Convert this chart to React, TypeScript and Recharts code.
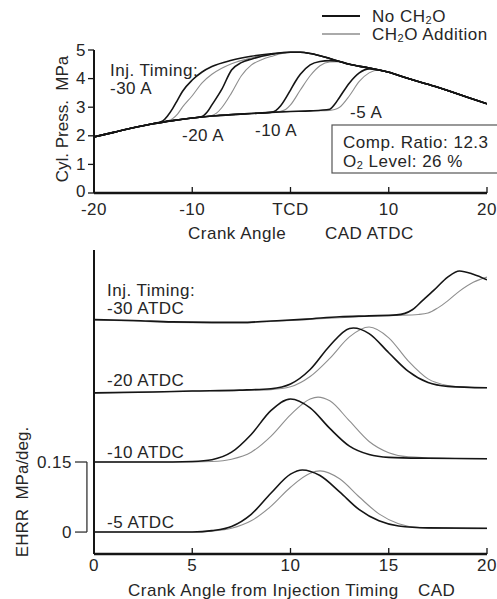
import React from 'react';
import { LineChart, Line, XAxis, YAxis, ReferenceLine } from 'recharts';

type Pair = [number, number];

// ---------- Top panel: cylinder pressure (MPa) vs crank angle (CAD ATDC) ----------
const pressXTicks = [-20, -10, 0, 10, 20];
const pressYTicks = [0, 1, 2, 3, 4, 5];
const pressTimingLabels = ['-30 A', '-20 A', '-10 A', '-5 A'];
const motoredPress: Pair[] = [[-20, 1.96], [-18, 2.12], [-16, 2.28], [-14, 2.42], [-12, 2.53], [-10, 2.62], [-8, 2.69], [-6, 2.74], [-4, 2.78], [-2, 2.82], [0, 2.85], [2, 2.87], [4, 2.89]];
const expansionPress: Pair[] = [[0, 4.92], [1, 4.92], [2, 4.88], [3, 4.8], [4, 4.7], [5, 4.6], [6, 4.5], [8, 4.37], [10, 4.22], [12, 4.0], [14, 3.8], [16, 3.58], [18, 3.35], [20, 3.12]];
const burn30No: Pair[] = [[-13, 2.52], [-12.5, 2.7], [-12, 2.95], [-11.5, 3.25], [-11, 3.55], [-10, 3.95], [-9, 4.23], [-8, 4.42], [-6, 4.64], [-4, 4.78], [-2, 4.87]];
const burn30Add: Pair[] = [[-12.5, 2.52], [-12, 2.6], [-11.5, 2.76], [-11, 3.0], [-10, 3.4], [-9, 3.85], [-8, 4.15], [-7, 4.36], [-6, 4.52], [-4, 4.72], [-2, 4.85]];
const burn20No: Pair[] = [[-9, 2.67], [-8.5, 2.82], [-8, 3.08], [-7, 3.62], [-6, 4.3], [-5, 4.56], [-4, 4.68], [-2, 4.84]];
const burn20Add: Pair[] = [[-8, 2.71], [-7.5, 2.8], [-7, 2.98], [-6, 3.5], [-5, 4.1], [-4, 4.47], [-3, 4.65], [-2, 4.77]];
const burn10No: Pair[] = [[-1.5, 2.88], [-1, 3.05], [0, 3.6], [0.5, 3.9], [1, 4.15], [2, 4.48], [3, 4.6], [4, 4.63], [5, 4.6]];
const burn10Add: Pair[] = [[-1, 2.86], [-0.5, 2.92], [0, 3.08], [1, 3.6], [2, 4.1], [3, 4.45], [4, 4.58], [5, 4.59]];
const burn5No: Pair[] = [[4, 2.93], [4.5, 3.1], [5, 3.35], [6, 3.85], [7, 4.2], [8, 4.34], [9, 4.3]];
const burn5Add: Pair[] = [[4.5, 2.92], [5, 3.0], [6, 3.4], [7, 3.9], [8, 4.2], [9, 4.3]];

// ---------- Bottom panel: EHRR (MPa/deg) vs crank angle from injection timing ----------
const ehrrXTicks = [0, 5, 10, 15, 20];
const ehrrYTicks = [0, 0.15];
const ehrrTimings = ['-30', '-20', '-10', '-5'];
const ehrrOffsets = [0.45, 0.3, 0.15, 0];
const ehrr30No: Pair[] = [[0, 0.005], [2, 0.003], [4, 0.0], [6, -0.001], [7.5, -0.001], [9, 0.002], [10.8, 0.006], [12.5, 0.011], [14, 0.013], [15.4, 0.015], [16.2, 0.026], [16.7, 0.045], [17.3, 0.068], [18, 0.096], [18.6, 0.109], [19.3, 0.102], [20, 0.09]];
const ehrr30Add: Pair[] = [[0, 0.004], [2, 0.002], [4, -0.001], [6, -0.002], [7.5, -0.002], [9, 0.001], [10.8, 0.005], [12.5, 0.009], [14, 0.012], [15.4, 0.014], [16.5, 0.016], [17, 0.019], [17.5, 0.03], [18, 0.045], [18.6, 0.066], [19.3, 0.085], [20, 0.096]];
const ehrr20No: Pair[] = [[0, -0.002], [3, 0.0], [5, 0.002], [7.4, 0.004], [9, 0.007], [10, 0.017], [11, 0.048], [12, 0.099], [13, 0.136], [13.2, 0.137], [14, 0.125], [15, 0.084], [16, 0.044], [17, 0.02], [18, 0.012], [20, 0.009]];
const ehrr20Add: Pair[] = [[0, -0.002], [3, 0.0], [5, 0.002], [7.4, 0.003], [9, 0.005], [10, 0.011], [11, 0.033], [12, 0.072], [13, 0.118], [14, 0.139], [15, 0.116], [16, 0.066], [17, 0.028], [18, 0.014], [19, 0.01], [20, 0.009]];
const ehrr10No: Pair[] = [[0, 0], [4, 0], [5, 0.001], [6, 0.005], [7, 0.021], [8, 0.059], [9, 0.11], [10, 0.135], [11, 0.116], [12, 0.072], [13, 0.034], [14, 0.016], [15, 0.01], [17, 0.008], [20, 0.007]];
const ehrr10Add: Pair[] = [[0, 0], [5, 0], [6, 0.001], [7, 0.006], [8, 0.021], [9, 0.055], [10, 0.101], [11, 0.135], [11.4, 0.139], [12, 0.131], [13, 0.088], [14, 0.044], [15, 0.02], [16, 0.011], [18, 0.008], [20, 0.007]];
const ehrr5No: Pair[] = [[0, 0], [5, 0], [6, 0.003], [7, 0.012], [8, 0.038], [9, 0.083], [10, 0.124], [10.6, 0.133], [11.5, 0.121], [12.5, 0.086], [13.5, 0.048], [14.5, 0.024], [15.5, 0.013], [17, 0.009], [20, 0.008]];
const ehrr5Add: Pair[] = [[0, 0], [5, 0], [6, 0.002], [7, 0.008], [8, 0.024], [9, 0.055], [10, 0.096], [11, 0.126], [11.5, 0.131], [12.5, 0.114], [13.5, 0.075], [14.5, 0.039], [15.5, 0.018], [16.5, 0.01], [18, 0.008], [20, 0.007]];

// ---------- styles ----------
const BLACK = '#151515';
const GRAY = '#8e8e8e';
const TEXT = '#262626';
const FONT = '"Liberation Sans", Arial, Helvetica, sans-serif';
const LBL: React.CSSProperties = { fontSize: 17, fill: TEXT, letterSpacing: 0.5 };
const VLBL: React.CSSProperties = { fontSize: 17, fill: TEXT, whiteSpace: 'pre' };

const toPts = (pairs: Pair[], offset = 0) => pairs.map(([x, y]) => ({ x, y: +(y + offset).toFixed(4) }));
const compose = (burn: Pair[]): Pair[] => {
  const s = burn[0][0];
  const e = burn[burn.length - 1][0];
  return [...motoredPress.filter((p) => p[0] < s), ...burn, ...expansionPress.filter((p) => p[0] > e)];
};

const pressGray = [burn30Add, burn20Add, burn10Add, burn5Add].map((b) => toPts(compose(b)));
const pressBlack = [burn30No, burn20No, burn10No, burn5No].map((b) => toPts(compose(b)));
const ehrrGray = [ehrr30Add, ehrr20Add, ehrr10Add, ehrr5Add].map((s, i) => toPts(s, ehrrOffsets[i]));
const ehrrBlack = [ehrr30No, ehrr20No, ehrr10No, ehrr5No].map((s, i) => toPts(s, ehrrOffsets[i]));

const TopXTick = (props: any) => {
  const { x, y, payload } = props;
  return (
    <g>
      <line x1={x} x2={x} y1={y} y2={y - 6} stroke={BLACK} strokeWidth={1.3} />
      <text x={x} y={y + 16} textAnchor="middle" dominantBaseline="central" style={LBL}>
        {payload.value === 0 ? 'TCD' : String(payload.value)}
      </text>
    </g>
  );
};
const BotXTick = (props: any) => {
  const { x, y, payload } = props;
  return (
    <g>
      <line x1={x} x2={x} y1={y} y2={y - 6} stroke={BLACK} strokeWidth={1.3} />
      <text x={x} y={y + 11} textAnchor="middle" dominantBaseline="central" style={LBL}>
        {String(payload.value)}
      </text>
    </g>
  );
};
const TopYTick = (props: any) => {
  const { x, y, payload } = props;
  return (
    <g>
      <line x1={x - 6} x2={x} y1={y} y2={y} stroke={BLACK} strokeWidth={1.3} />
      <text x={x - 8} y={payload.value === 0 ? y - 2 : y} textAnchor="end" dominantBaseline="central" style={LBL}>
        {String(payload.value)}
      </text>
    </g>
  );
};
const BotYTick = (props: any) => {
  const { x, y, payload } = props;
  return (
    <g>
      <line x1={x - 19} x2={x - 7} y1={y} y2={y} stroke="#333" strokeWidth={1.3} />
      <text x={x - 22} y={y} textAnchor="end" dominantBaseline="central" style={LBL}>
        {String(payload.value)}
      </text>
    </g>
  );
};

export default function App() {
  return (
    <div style={{ position: 'absolute', left: 0, top: 0, width: 497, height: 599, background: '#fff', fontFamily: FONT }}>
      <div style={{ position: 'absolute', left: 0, top: 0 }}>
        <LineChart width={497} height={245} margin={{ top: 50, right: 10, left: 0, bottom: 0 }}>
          <XAxis dataKey="x" type="number" domain={[-20, 20]} ticks={pressXTicks} tick={<TopXTick />} tickSize={0} tickMargin={0} tickLine={false} axisLine={{ stroke: BLACK, strokeWidth: 2.5 }} height={52} allowDataOverflow />
          <XAxis xAxisId="top" orientation="top" type="number" domain={[-20, 20]} tick={false} tickLine={false} axisLine={{ stroke: BLACK, strokeWidth: 2 }} height={0} />
          <YAxis dataKey="y" type="number" domain={[0, 5]} ticks={pressYTicks} tick={<TopYTick />} tickSize={0} tickMargin={0} tickLine={false} axisLine={{ stroke: BLACK, strokeWidth: 2 }} width={94} allowDataOverflow />
          <YAxis yAxisId="right" orientation="right" type="number" domain={[0, 5]} tick={false} tickLine={false} axisLine={{ stroke: '#333', strokeWidth: 1.5 }} width={0} />
          {pressGray.map((d, i) => (
            <Line key={'pg' + i} data={d} dataKey="y" type="monotone" stroke={GRAY} strokeWidth={1.1} dot={false} isAnimationActive={false} />
          ))}
          {pressBlack.map((d, i) => (
            <Line key={'pb' + i} data={d} dataKey="y" type="monotone" stroke={BLACK} strokeWidth={1.6} dot={false} isAnimationActive={false} />
          ))}
        </LineChart>
      </div>
      <div style={{ position: 'absolute', left: 0, top: 245 }}>
        <LineChart width={497} height={354} margin={{ top: 5, right: 10, left: 0, bottom: 0 }}>
          <XAxis dataKey="x" type="number" domain={[0, 20]} ticks={ehrrXTicks} tick={<BotXTick />} tickSize={0} tickMargin={0} tickLine={false} axisLine={{ stroke: BLACK, strokeWidth: 2.5 }} height={45} allowDataOverflow />
          <XAxis xAxisId="top" orientation="top" type="number" domain={[0, 20]} tick={false} tickLine={false} axisLine={{ stroke: BLACK, strokeWidth: 2.5 }} height={0} />
          <YAxis dataKey="y" type="number" domain={[-0.047, 0.604]} ticks={ehrrYTicks} tick={<BotYTick />} tickSize={0} tickMargin={0} tickLine={false} axisLine={{ stroke: BLACK, strokeWidth: 2 }} width={94} allowDataOverflow />
          <YAxis yAxisId="right" orientation="right" type="number" domain={[-0.047, 0.604]} tick={false} tickLine={false} axisLine={{ stroke: BLACK, strokeWidth: 1.5 }} width={0} />
          <ReferenceLine segment={[{ x: -0.36, y: 0 }, { x: -0.36, y: 0.15 }]} ifOverflow="visible" stroke="#333" strokeWidth={1.3} />
          {ehrrGray.map((d, i) => (
            <Line key={'eg' + i} data={d} dataKey="y" type="monotone" stroke={GRAY} strokeWidth={1.1} dot={false} isAnimationActive={false} />
          ))}
          {ehrrBlack.map((d, i) => (
            <Line key={'eb' + i} data={d} dataKey="y" type="monotone" stroke={BLACK} strokeWidth={1.6} dot={false} isAnimationActive={false} />
          ))}
        </LineChart>
      </div>
      <svg width={497} height={599} style={{ position: 'absolute', left: 0, top: 0, pointerEvents: 'none' }}>
        {/* legend */}
        <line x1={322} x2={360} y1={16} y2={16} stroke={BLACK} strokeWidth={1.8} />
        <line x1={322} x2={360} y1={34} y2={34} stroke={GRAY} strokeWidth={1.3} />
        <text x={372} y={16} style={LBL} dominantBaseline="central">No CH<tspan dy={4} fontSize={11}>2</tspan><tspan dy={-4}>O</tspan></text>
        <text x={372} y={34} style={LBL} dominantBaseline="central">CH<tspan dy={4} fontSize={11}>2</tspan><tspan dy={-4}>O Addition</tspan></text>
        {/* top panel annotations */}
        <text x={110} y={70} style={LBL} dominantBaseline="central">Inj. Timing:</text>
        <text x={110} y={88} style={LBL} dominantBaseline="central">{pressTimingLabels[0]}</text>
        <text x={182} y={135} style={LBL} dominantBaseline="central">{pressTimingLabels[1]}</text>
        <text x={255} y={130} style={LBL} dominantBaseline="central">{pressTimingLabels[2]}</text>
        <text x={350} y={112} style={LBL} dominantBaseline="central">{pressTimingLabels[3]}</text>
        <rect x={332} y={125} width={190} height={48} fill="#fff" stroke="#555" strokeWidth={1.2} />
        <text x={343} y={142} style={LBL} dominantBaseline="central">Comp. Ratio: 12.3</text>
        <text x={343} y={161} style={LBL} dominantBaseline="central">O<tspan dy={4} fontSize={11}>2</tspan><tspan dy={-4}> Level: 26 %</tspan></text>
        <text x={188} y={233} style={LBL} dominantBaseline="central">Crank Angle</text>
        <text x={325} y={233} style={LBL} dominantBaseline="central">CAD ATDC</text>
        <text transform="translate(62,119) rotate(-90)" textAnchor="middle" dominantBaseline="central" style={VLBL} xmlSpace="preserve">{'Cyl. Press.  MPa'}</text>
        {/* bottom panel annotations */}
        <text x={107} y={290} style={LBL} dominantBaseline="central">Inj. Timing:</text>
        <text x={107} y={308} style={LBL} dominantBaseline="central">{ehrrTimings[0]} ATDC</text>
        <text x={107} y={380} style={LBL} dominantBaseline="central">{ehrrTimings[1]} ATDC</text>
        <text x={107} y={452} style={LBL} dominantBaseline="central">{ehrrTimings[2]} ATDC</text>
        <text x={107} y={522} style={LBL} dominantBaseline="central">{ehrrTimings[3]} ATDC</text>
        <text x={128} y={590} style={LBL} dominantBaseline="central">Crank Angle from Injection Timing</text>
        <text x={418} y={590} style={LBL} dominantBaseline="central">CAD</text>
        <text transform="translate(22,492) rotate(-90)" textAnchor="middle" dominantBaseline="central" style={VLBL} xmlSpace="preserve">{'EHRR  MPa/deg.'}</text>
      </svg>
    </div>
  );
}
